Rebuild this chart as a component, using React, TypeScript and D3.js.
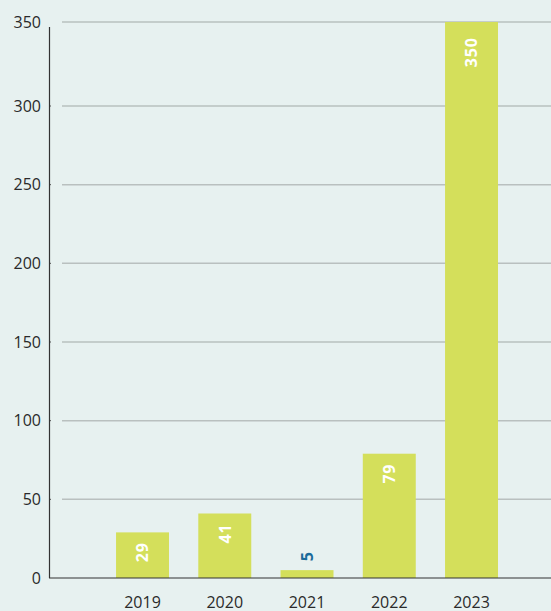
import React from "react";
import * as d3 from "d3";

const years = ["2019", "2020", "2021", "2022", "2023"];
const values = [29, 41, 5, 79, 350];
const yTicks = [0, 50, 100, 150, 200, 250, 300, 350];

const W = 551;
const H = 611;

export default function App() {
  // axis is compressed slightly at the top in the reference
  const y = d3.scaleLinear().domain([0, 300, 350]).range([578, 106, 22]);
  const yLab = d3.scaleLinear().domain([0, 300]).range([578, 106]);
  const x = d3
    .scaleBand<string>()
    .domain(years)
    .range([101.4, 101.4 + 5 * 82.25])
    .paddingInner(0.356)
    .paddingOuter(0.178);

  const font = "'Open Sans', 'DejaVu Sans', sans-serif";

  return (
    <svg
      width={W}
      height={H}
      style={{ position: "absolute", left: 0, top: 0, display: "block" }}
    >
      <rect x={0} y={0} width={W} height={H} fill="#e7f1f0" />
      {yTicks.map((t) =>
        t === 0 ? null : (
          <line
            key={"g" + t}
            x1={62}
            x2={W}
            y1={y(t)}
            y2={y(t)}
            stroke="#b9c0bf"
            strokeWidth={1.5}
          />
        )
      )}
      {yTicks.map((t) => (
        <text
          key={"t" + t}
          x={41}
          y={y(t)}
          dy="0.35em"
          textAnchor="end"
          fontFamily={font}
          fontSize={16}
          fill="#2a2a2a"
        >
          {t}
        </text>
      ))}
      {yTicks.map((t) =>
        t === 0 || t === 350 ? null : (
          <line
            key={"k" + t}
            x1={49}
            x2={51}
            y1={y(t)}
            y2={y(t)}
            stroke="#555"
            strokeWidth={1}
          />
        )
      )}
      {years.map((yr, i) => (
        <rect
          key={"b" + yr}
          x={x(yr)}
          y={y(values[i])}
          width={x.bandwidth()}
          height={y(0) - y(values[i])}
          fill="#d4df5b"
        />
      ))}
      <line x1={49.5} x2={49.5} y1={27} y2={578} stroke="#333" strokeWidth={1.2} />
      <line x1={49} x2={W} y1={578} y2={578} stroke="#333" strokeWidth={1.2} />
      {years.map((yr, i) => {
        const cx = (x(yr) as number) + x.bandwidth() / 2;
        const inside = values[i] >= 20;
        const yPos = inside ? yLab(values[i]) + 10 : y(values[i]) - 9;
        return (
          <text
            key={"l" + yr}
            transform={`translate(${cx},${yPos}) rotate(-90)`}
            textAnchor={inside ? "end" : "start"}
            dy="0.36em"
            fontFamily={font}
            fontWeight={700}
            fontSize={16}
            letterSpacing={0.8}
            fill={inside ? "#ffffff" : "#1b6b9a"}
          >
            {values[i]}
          </text>
        );
      })}
      {years.map((yr) => (
        <text
          key={"x" + yr}
          x={(x(yr) as number) + x.bandwidth() / 2}
          y={608}
          textAnchor="middle"
          fontFamily={font}
          fontSize={16}
          fill="#2a2a2a"
        >
          {yr}
        </text>
      ))}
    </svg>
  );
}
